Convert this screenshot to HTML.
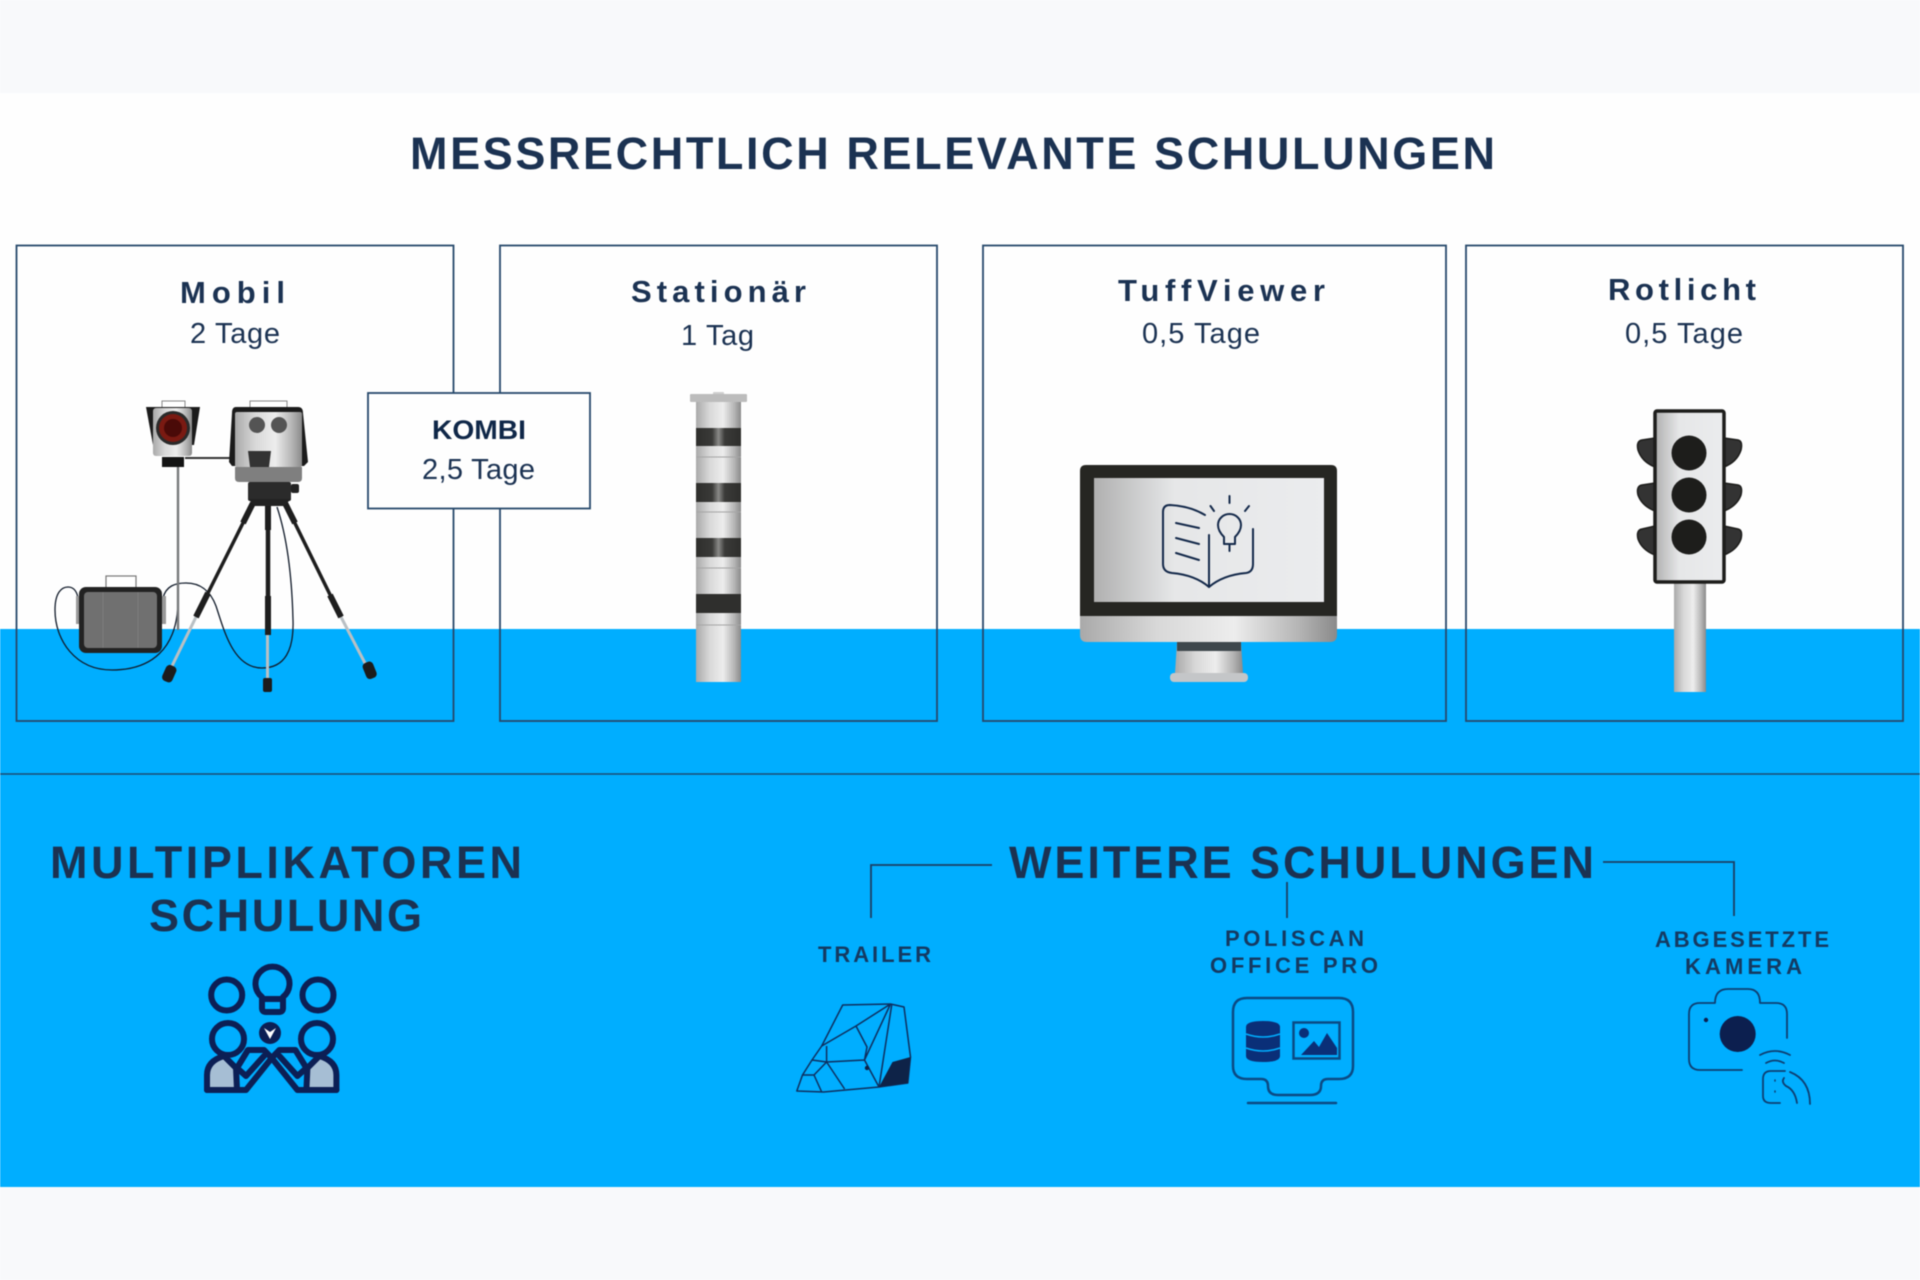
<!DOCTYPE html>
<html lang="de"><head><meta charset="utf-8"><title>Messrechtlich relevante Schulungen</title>
<style>html,body{margin:0;padding:0;background:#fff}svg{display:block;filter:blur(.5px)}
text{font-family:"Liberation Sans",sans-serif;fill:#1b3252}
.h{font-weight:700;font-size:45px}
.b{font-weight:700;font-size:31px}
.d{font-size:29px}
.s{font-weight:700;font-size:22px;fill:#143a62}
</style></head><body>
<svg width="1920" height="1280" viewBox="0 0 1920 1280" xmlns="http://www.w3.org/2000/svg">
<defs>
<linearGradient id="si" x1="0" x2="1" y1="0" y2="0"><stop offset="0" stop-color="#a9a9a9"/><stop offset=".3" stop-color="#d8d8d8"/><stop offset=".6" stop-color="#ededed"/><stop offset=".85" stop-color="#b5b5b5"/><stop offset="1" stop-color="#8a8a8a"/></linearGradient>
<linearGradient id="sc" x1="0" x2="1" y1="0" y2="0"><stop offset="0" stop-color="#b0b0b0"/><stop offset=".35" stop-color="#e6e7e8"/><stop offset="1" stop-color="#ebecee"/></linearGradient>
<linearGradient id="ban" x1="0" x2="1" y1="0" y2="0"><stop offset="0" stop-color="#2e2e2c"/><stop offset=".36" stop-color="#3a3a38"/><stop offset=".5" stop-color="#8a8a88"/><stop offset=".64" stop-color="#3a3a38"/><stop offset="1" stop-color="#2e2e2c"/></linearGradient>
</defs>
<rect width="1920" height="1280" fill="#fefefe"/>
<rect width="1920" height="93" fill="#f8f9fb"/>
<rect y="629" width="1920" height="558" fill="#00aeff"/>
<rect y="1187" width="1920" height="93" fill="#f8f9fb"/>
<line x1="0" x2="1920" y1="774" y2="774" stroke="#1c4a70" stroke-width="1.500"/>

<text class="h" x="410" y="169" textLength="1085" lengthAdjust="spacing">MESSRECHTLICH RELEVANTE SCHULUNGEN</text>

<g fill="none" stroke="#27496b" stroke-width="1.800">
<rect x="16.500" y="245.500" width="437" height="475.500"/>
<rect x="500" y="245.500" width="437" height="475.500"/>
<rect x="983" y="245.500" width="463" height="475.500"/>
<rect x="1466" y="245.500" width="437" height="475.500"/>
</g>

<text class="b" x="180" y="303" textLength="105" lengthAdjust="spacing">Mobil</text>
<text class="d" x="190" y="343" textLength="90" lengthAdjust="spacing">2 Tage</text>
<text class="b" x="631" y="302" textLength="175" lengthAdjust="spacing">Stationär</text>
<text class="d" x="681" y="345" textLength="73" lengthAdjust="spacing">1 Tag</text>
<text class="b" x="1118" y="301" textLength="207" lengthAdjust="spacing">TuffViewer</text>
<text class="d" x="1142" y="343" textLength="118" lengthAdjust="spacing">0,5 Tage</text>
<text class="b" x="1608" y="300" textLength="148" lengthAdjust="spacing">Rotlicht</text>
<text class="d" x="1625" y="343" textLength="118" lengthAdjust="spacing">0,5 Tage</text>

<!-- Mobile unit -->
<g fill="none" stroke="#111b2a" stroke-width="1.300">
<path d="M178 600 C178 650 150 670 112 670 C75 670 55 640 55 610 C55 592 62 587 68 587 C74 587 77 592 78 598"/>
<path d="M163 598 C166 586 175 583 186 583 C200 583 210 590 216 606 C224 630 233 668 262 668 C285 668 294 650 293 620 C292 580 288 540 277 507"/>
</g>
<line x1="178" y1="467" x2="178" y2="630" stroke="#77797b" stroke-width="2.400"/>
<rect x="106" y="576" width="30" height="13" fill="#fff" stroke="#777" stroke-width="1.200"/>
<rect x="76" y="596" width="90" height="28" fill="#999"/>
<rect x="79" y="587" width="83" height="66" rx="7" fill="#222"/>
<rect x="84" y="592" width="73" height="56" rx="4" fill="#707070"/>
<path d="M103 592V648M138 592V648" stroke="#7c7c7c" stroke-width="1"/>

<!-- tripod -->
<g stroke-linecap="butt" fill="none">
<line x1="196" y1="617" x2="171" y2="668" stroke="#b9c0c4" stroke-width="3"/>
<line x1="253" y1="503" x2="196" y2="617" stroke="#1e1e1e" stroke-width="3.500"/>
<line x1="208" y1="593" x2="196" y2="617" stroke="#1e1e1e" stroke-width="6"/>
<line x1="243" y1="523" x2="253" y2="503" stroke="#1e1e1e" stroke-width="6"/>
<line x1="267.500" y1="635" x2="267.500" y2="680" stroke="#b9c0c4" stroke-width="3"/>
<line x1="268" y1="500" x2="268" y2="635" stroke="#1e1e1e" stroke-width="4.500"/>
<line x1="268" y1="596" x2="268" y2="635" stroke="#1e1e1e" stroke-width="6"/>
<line x1="268" y1="500" x2="268" y2="530" stroke="#1e1e1e" stroke-width="6"/>
<line x1="341" y1="617" x2="367" y2="667" stroke="#b9c0c4" stroke-width="3"/>
<line x1="285" y1="503" x2="341" y2="617" stroke="#1e1e1e" stroke-width="3.500"/>
<line x1="330" y1="595" x2="341" y2="617" stroke="#1e1e1e" stroke-width="6"/>
<line x1="285" y1="503" x2="295" y2="523" stroke="#1e1e1e" stroke-width="6"/>
</g>
<g fill="#1c1c1c">
<rect x="164" y="665" width="11" height="17" rx="4" transform="rotate(24 169 673)"/>
<rect x="263" y="678" width="9" height="14" rx="2"/>
<rect x="364" y="662" width="11" height="17" rx="4" transform="rotate(-22 369 670)"/>
</g>
<!-- flash -->
<rect x="162" y="401" width="23" height="8" fill="#fff" stroke="#888" stroke-width="1"/>
<path d="M146 407H200L194 445H153Z" fill="#1b1b1b"/>
<rect x="153" y="408" width="39" height="48" rx="3" fill="url(#si)"/>
<circle cx="173" cy="428" r="17" fill="#2a2a2a"/>
<circle cx="173" cy="428" r="14" fill="#7a1a12"/>
<circle cx="173" cy="428" r="9" fill="#4a0a08"/>
<rect x="162" y="457" width="22" height="10" fill="#141414"/>
<line x1="185" y1="458" x2="231" y2="458" stroke="#333" stroke-width="2"/>
<!-- camera -->
<rect x="250" y="401" width="37" height="9" fill="#fff" stroke="#888" stroke-width="1"/>
<path d="M236 407H298Q303 407 303 413L308 462L304 466H232L229 462L232 413Q232 407 236 407Z" fill="#1b1b1b"/>
<rect x="235" y="412" width="67" height="55" rx="2" fill="url(#si)"/>
<path d="M235 467H302V478Q302 482 298 482H239Q235 482 235 478Z" fill="#7f7f7f"/>
<circle cx="257" cy="425" r="8" fill="#545454"/>
<circle cx="279" cy="425" r="8" fill="#545454"/>
<path d="M248 451H271L269 467H250Z" fill="#333"/>
<rect x="248" y="482" width="43" height="19" rx="2" fill="#2b2b2b"/>
<path d="M248 499H291L284 506H255Z" fill="#222"/>
<rect x="291" y="484" width="8" height="9" rx="2" fill="#222"/>

<!-- Kombi -->
<rect x="368" y="393" width="222" height="115.500" fill="#fefefe" stroke="#27496b" stroke-width="1.800"/>
<text x="432" y="439" font-size="27" font-weight="700" textLength="94" lengthAdjust="spacingAndGlyphs" style="fill:#0f2748">KOMBI</text>
<text class="d" x="422" y="479" textLength="113" lengthAdjust="spacing">2,5 Tage</text>

<!-- pole -->
<rect x="713" y="392" width="11" height="4" rx="1" fill="#cfcfcf"/>
<rect x="690" y="394" width="57" height="8" rx="1" fill="#bcbcbc"/>
<rect x="696" y="402" width="45" height="280" fill="url(#si)"/>
<g fill="url(#ban)"><rect x="696" y="428" width="45" height="18"/><rect x="696" y="483" width="45" height="19"/><rect x="696" y="538" width="45" height="19"/></g>
<rect x="696" y="594" width="45" height="19" fill="#2f2f2d"/>
<g stroke="#a5a5a5" stroke-width="1"><line x1="696" x2="741" y1="457" y2="457"/><line x1="696" x2="741" y1="512" y2="512"/><line x1="696" x2="741" y1="568" y2="568"/><line x1="696" x2="741" y1="625" y2="625"/></g>

<!-- monitor -->
<path d="M1177 642H1241L1243 673H1175Z" fill="url(#si)"/>
<rect x="1177" y="642" width="64" height="9" fill="#3e474c"/>
<rect x="1170" y="673" width="78" height="9" rx="4" fill="#c4c6c8"/>
<path d="M1080 616H1337V635Q1337 642 1330 642H1087Q1080 642 1080 635Z" fill="url(#si)"/>
<path d="M1086 465H1331Q1337 465 1337 471V616H1080V471Q1080 465 1086 465Z" fill="#262622"/>
<rect x="1094" y="478" width="230" height="124" fill="url(#sc)"/>
<g fill="none" stroke="#14294a" stroke-width="2" stroke-linecap="round" stroke-linejoin="round">
<path d="M1205 515Q1190 506 1170 505Q1163 505 1163 512V564Q1163 572 1172 573Q1195 575 1209 587Q1223 575 1246 573Q1253 572 1253 564V529"/>
<path d="M1209 535V587"/>
<path d="M1176 523L1199 528M1176 538L1199 544M1176 553L1199 560"/>
<path d="M1224 544V537Q1218 531 1218 525A11.500 11 0 0 1 1241 525Q1241 531 1235 537V544Z"/>
<path d="M1229.500 544V551M1229.500 496V503M1210.500 506L1214 511M1249 506L1245 511"/>
</g>

<!-- traffic light -->
<rect x="1674" y="583" width="32" height="109" fill="url(#si)"/>
<g fill="#333" stroke="#1d1d1b" stroke-width="1.500">
<path d="M1655 438L1642 440Q1636 441 1638 450Q1642 462 1655 467Z"/><path d="M1655 483L1642 485Q1636 486 1638 495Q1642 506 1655 511Z"/><path d="M1655 526L1642 529Q1636 530 1638 539Q1642 550 1655 555Z"/>
<path d="M1724 438L1738 440Q1743 441 1741 450Q1737 462 1724 467Z"/><path d="M1724 483L1738 485Q1743 486 1741 495Q1737 506 1724 511Z"/><path d="M1724 526L1738 529Q1743 530 1741 539Q1737 550 1724 555Z"/>
</g>
<rect x="1655" y="411" width="69" height="171" rx="2" fill="url(#sc)" stroke="#1d1d1b" stroke-width="3.500"/>
<g fill="#1d1d1b"><circle cx="1689" cy="453" r="17.500"/><circle cx="1689" cy="495" r="17.500"/><circle cx="1689" cy="537" r="17.500"/></g>

<!-- lower headings -->
<text class="h" x="50" y="878" textLength="472" lengthAdjust="spacing">MULTIPLIKATOREN</text>
<text class="h" x="149" y="931" textLength="273" lengthAdjust="spacing">SCHULUNG</text>
<text class="h" x="1009" y="878" textLength="585" lengthAdjust="spacing">WEITERE SCHULUNGEN</text>

<g fill="none" stroke="#1c3f63" stroke-width="1.800">
<path d="M992 865H871V918"/><path d="M1287 882V918"/><path d="M1603 862H1734V916"/>
</g>

<text class="s" x="818" y="962" textLength="113" lengthAdjust="spacing">TRAILER</text>
<text class="s" x="1225" y="946" textLength="139" lengthAdjust="spacing">POLISCAN</text>
<text class="s" x="1210" y="973" textLength="168" lengthAdjust="spacing">OFFICE PRO</text>
<text class="s" x="1655" y="947" textLength="174" lengthAdjust="spacing">ABGESETZTE</text>
<text class="s" x="1685" y="974" textLength="117" lengthAdjust="spacing">KAMERA</text>

<!-- multiplikator icon -->
<g fill="none" stroke="#0c1f55" stroke-width="6" stroke-linejoin="round" stroke-linecap="round">
<circle cx="226.700" cy="995" r="15.500"/><circle cx="318" cy="995" r="15.500"/>
<path d="M262 997A17 17 0 1 1 283 997V1008Q283 1012 279 1012H266Q262 1012 262 1008ZM262 999H283"/>
<circle cx="228" cy="1039" r="16"/><circle cx="317" cy="1039" r="16"/>
<path d="M207 1090V1075Q207 1061 224 1056L236 1068L237 1090Z" fill="#a6bed4"/>
<path d="M336.400 1090V1075Q336.400 1061 319.400 1056L307.400 1068L306.400 1090Z" fill="#a6bed4"/>
<path d="M207 1090H246L271.700 1058L264 1050H248L237 1068L246 1076L264 1056"/>
<path d="M336.400 1090H297.400L271.700 1058L279.400 1050H295.400L306.400 1068L297.400 1076L279.400 1056"/>
</g>
<circle cx="270" cy="1033" r="11" fill="#0c1f55"/>
<path d="M264 1028L270 1039L276 1028L270 1032Z" fill="#fff"/>

<!-- trailer icon -->
<g fill="none" stroke="#0e2f5f" stroke-width="1.500" stroke-linejoin="round">
<path d="M842.700 1005L890.500 1004L904 1007L910.500 1057L907.800 1083L879 1087L823.600 1092L796.800 1091L802.500 1075L812 1060L821.700 1046Z"/>
<path d="M890.500 1004L856 1026L821.700 1046M856 1026L867 1047L864.500 1060M890.500 1004L864.500 1060M891.700 1005L879 1087M812 1060L826.600 1062L864.500 1060M826.600 1046V1062M826.600 1062L814 1075L802.500 1075M814 1075L821.700 1092M826.600 1062L844.600 1089M864.500 1060L879 1087"/>
</g>
<path d="M892.500 1062L910.500 1057L907.800 1083L879 1087Z" fill="#0e2348"/>
<circle cx="867" cy="1068" r="2.200" fill="#0e2348"/>

<!-- poliscan icon -->
<g fill="none" stroke="#0b4a84" stroke-width="2.500" stroke-linecap="round">
<path d="M1247 998H1339Q1353 998 1353 1012V1066Q1353 1079 1339 1079H1328Q1321 1079 1321 1086Q1321 1095 1310 1095H1278Q1268 1095 1268 1086Q1268 1079 1261 1079H1247Q1233 1079 1233 1066V1012Q1233 998 1247 998Z"/>
<path d="M1248 1103H1336"/>
<rect x="1293.500" y="1022.500" width="46" height="36"/>
</g>
<path d="M1246 1027Q1246 1021 1263 1021Q1280 1021 1280 1027V1056Q1280 1062 1263 1062Q1246 1062 1246 1056Z" fill="#0a2f78"/>
<path d="M1246 1034Q1263 1040 1280 1034M1246 1048Q1263 1054 1280 1048" fill="none" stroke="#00aeff" stroke-width="1.500"/>
<g fill="#0a2f78">
<circle cx="1304" cy="1033" r="5"/><path d="M1301 1055L1314 1041L1319 1047L1327 1033L1337 1048V1055Z"/>
</g>

<!-- camera icon -->
<g fill="none" stroke="#0e3f72" stroke-width="1.800" stroke-linecap="round" stroke-linejoin="round">
<path d="M1742 1070H1700Q1689 1070 1689 1059V1014Q1689 1003 1700 1003H1715Q1715 989 1728 989H1748Q1760 989 1760 1003H1776Q1787 1003 1787 1014V1038"/>
<path d="M1760 1055Q1775 1047 1790 1055M1766 1063Q1775 1058 1784 1063"/>
<path d="M1785 1071H1771Q1763 1071 1763 1079V1096Q1763 1103 1771 1103H1780M1790 1072Q1810 1080 1810 1104M1797 1103Q1795 1090 1786 1086Q1781 1082 1784 1078"/>
<path d="M1775 1080V1081M1775 1091V1092" stroke-width="1.500"/>
</g>
<circle cx="1737.700" cy="1034" r="18" fill="#0c1f4f"/>
<circle cx="1706" cy="1020" r="2.200" fill="#0c1f4f"/>
</svg>
</body></html>
